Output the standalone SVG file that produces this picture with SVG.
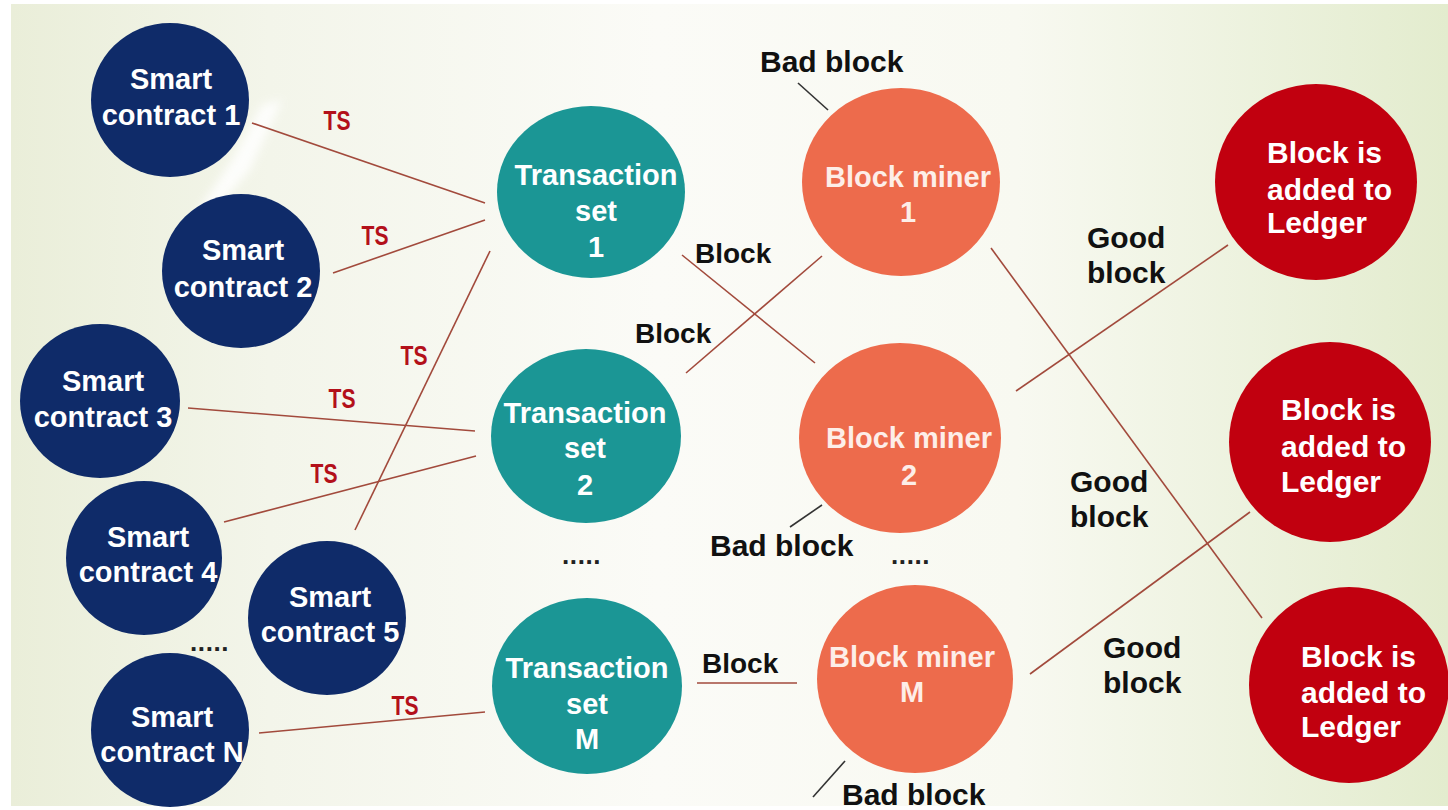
<svg xmlns="http://www.w3.org/2000/svg" width="1448" height="810" viewBox="0 0 1448 810">
<defs>
<linearGradient id="bg" x1="0" y1="0" x2="1" y2="0">
<stop offset="0" stop-color="#eaeed9"/>
<stop offset="0.18" stop-color="#f3f5ea"/>
<stop offset="0.45" stop-color="#fbfbf7"/>
<stop offset="0.7" stop-color="#f8f9f1"/>
<stop offset="1" stop-color="#e3ecce"/>
</linearGradient>
<filter id="blur" x="-50%" y="-50%" width="200%" height="200%"><feGaussianBlur stdDeviation="5"/></filter>
</defs>
<style>
.sc{fill:#0f2b69}
.ts{fill:#1b9695}
.bm{fill:#ed6b4c}
.lg{fill:#c1000f}
.nt{font-family:"Liberation Sans",Arial,sans-serif;font-weight:bold;font-size:29px;fill:#ffffff;text-anchor:middle}
.nl{font-family:"Liberation Sans",Arial,sans-serif;font-weight:bold;font-size:30px;fill:#ffffff}
.bmt{fill:#fdeee8}
.lbl{font-family:"Liberation Sans",Arial,sans-serif;font-weight:bold;font-size:30px;fill:#111111}
.blk{font-size:28px}
.tsl{font-family:"Liberation Sans",Arial,sans-serif;font-weight:bold;font-size:27px;fill:#b3101a;text-anchor:middle}
.dots{font-family:"Liberation Sans",Arial,sans-serif;font-weight:bold;font-size:26px;fill:#222222}
.cn{stroke:#a24a3c;stroke-width:1.6;fill:none}
.bb{stroke:#333333;stroke-width:1.6;fill:none}
</style>
<rect x="0" y="0" width="1448" height="810" fill="#ffffff"/>
<rect x="11" y="4" width="1437" height="802" fill="url(#bg)"/>
<path d="M262 105 L282 100 L250 170 L205 222 L196 214 L232 160 Z" fill="#ffffff" opacity="0.85" filter="url(#blur)"/>

<g id="connectors">
<line class="cn" x1="252" y1="123" x2="485" y2="203"/>
<line class="cn" x1="333" y1="273" x2="485" y2="220"/>
<line class="cn" x1="355" y1="530" x2="490" y2="251"/>
<line class="cn" x1="188" y1="408" x2="475" y2="431"/>
<line class="cn" x1="224" y1="522" x2="476" y2="456"/>
<line class="cn" x1="259" y1="733" x2="485" y2="712"/>
<line class="cn" x1="682" y1="255" x2="815" y2="363"/>
<line class="cn" x1="686" y1="373" x2="822" y2="256"/>
<line class="cn" x1="697" y1="683" x2="797" y2="683"/>
<line class="cn" x1="1016" y1="391" x2="1228" y2="245"/>
<line class="cn" x1="991" y1="248" x2="1262" y2="618"/>
<line class="cn" x1="1030" y1="674" x2="1250" y2="512"/>
<line class="bb" x1="798" y1="83" x2="828" y2="110"/>
<line class="bb" x1="790" y1="527" x2="822" y2="505"/>
<line class="bb" x1="813" y1="797" x2="845" y2="761"/>
</g>

<g id="sc1"><ellipse class="sc" cx="170" cy="100" rx="79" ry="77"/><text class="nt" x="171" y="89">Smart</text><text class="nt" x="171" y="125">contract 1</text></g>
<g id="sc2"><ellipse class="sc" cx="241" cy="271" rx="79" ry="77"/><text class="nt" x="243" y="260">Smart</text><text class="nt" x="243" y="297">contract 2</text></g>
<g id="sc3"><ellipse class="sc" cx="100" cy="401" rx="80" ry="77"/><text class="nt" x="103" y="391">Smart</text><text class="nt" x="103" y="427">contract 3</text></g>
<g id="sc4"><ellipse class="sc" cx="144" cy="558" rx="78" ry="77"/><text class="nt" x="148" y="547">Smart</text><text class="nt" x="148" y="582">contract 4</text></g>
<g id="sc5"><ellipse class="sc" cx="327" cy="618" rx="79" ry="77"/><text class="nt" x="330" y="607">Smart</text><text class="nt" x="330" y="642">contract 5</text></g>
<g id="scN"><ellipse class="sc" cx="170" cy="730" rx="79" ry="77"/><text class="nt" x="172" y="727">Smart</text><text class="nt" x="172" y="762">contract N</text></g>

<g id="ts1"><ellipse class="ts" cx="591" cy="192" rx="94" ry="86"/><text class="nt" x="596" y="185">Transaction</text><text class="nt" x="596" y="221">set</text><text class="nt" x="596" y="257">1</text></g>
<g id="ts2"><ellipse class="ts" cx="586" cy="436" rx="95" ry="87"/><text class="nt" x="585" y="423">Transaction</text><text class="nt" x="585" y="458">set</text><text class="nt" x="585" y="495">2</text></g>
<g id="tsM"><ellipse class="ts" cx="587" cy="686" rx="95" ry="88"/><text class="nt" x="587" y="678">Transaction</text><text class="nt" x="587" y="714">set</text><text class="nt" x="587" y="749">M</text></g>

<g id="bm1"><ellipse class="bm" cx="901" cy="182" rx="99" ry="94"/><text class="nt bmt" x="908" y="187">Block miner</text><text class="nt bmt" x="908" y="222">1</text></g>
<g id="bm2"><ellipse class="bm" cx="900" cy="438" rx="101" ry="95"/><text class="nt bmt" x="909" y="448">Block miner</text><text class="nt bmt" x="909" y="485">2</text></g>
<g id="bmM"><ellipse class="bm" cx="915" cy="679" rx="98" ry="94"/><text class="nt bmt" x="912" y="667">Block miner</text><text class="nt bmt" x="912" y="702">M</text></g>

<g id="lg1"><ellipse class="lg" cx="1316" cy="182" rx="101" ry="98"/><text class="nl" x="1267" y="163">Block is</text><text class="nl" x="1267" y="200">added to</text><text class="nl" x="1267" y="233">Ledger</text></g>
<g id="lg2"><ellipse class="lg" cx="1330" cy="442" rx="101" ry="100"/><text class="nl" x="1281" y="420">Block is</text><text class="nl" x="1281" y="457">added to</text><text class="nl" x="1281" y="492">Ledger</text></g>
<g id="lg3"><ellipse class="lg" cx="1349" cy="685" rx="100" ry="98"/><text class="nl" x="1301" y="667">Block is</text><text class="nl" x="1301" y="703">added to</text><text class="nl" x="1301" y="737">Ledger</text></g>

<g id="labels">
<text class="tsl" x="337" y="130" textLength="27" lengthAdjust="spacingAndGlyphs">TS</text>
<text class="tsl" x="375" y="245" textLength="27" lengthAdjust="spacingAndGlyphs">TS</text>
<text class="tsl" x="414" y="365" textLength="27" lengthAdjust="spacingAndGlyphs">TS</text>
<text class="tsl" x="342" y="408" textLength="27" lengthAdjust="spacingAndGlyphs">TS</text>
<text class="tsl" x="324" y="483" textLength="27" lengthAdjust="spacingAndGlyphs">TS</text>
<text class="tsl" x="405" y="715" textLength="27" lengthAdjust="spacingAndGlyphs">TS</text>
<text class="lbl blk" x="695" y="263">Block</text>
<text class="lbl blk" x="635" y="343">Block</text>
<text class="lbl blk" x="702" y="673">Block</text>
<text class="lbl" x="760" y="72">Bad block</text>
<text class="lbl" x="710" y="556">Bad block</text>
<text class="lbl" x="842" y="805">Bad block</text>
<text class="lbl" x="1087" y="248">Good</text>
<text class="lbl" x="1087" y="283">block</text>
<text class="lbl" x="1070" y="492">Good</text>
<text class="lbl" x="1070" y="527">block</text>
<text class="lbl" x="1103" y="658">Good</text>
<text class="lbl" x="1103" y="693">block</text>
<text class="dots" x="190" y="651" letter-spacing="0.6">.....</text>
<text class="dots" x="562" y="564" letter-spacing="0.6">.....</text>
<text class="dots" x="891" y="564" letter-spacing="0.6">.....</text>
</g>
</svg>
